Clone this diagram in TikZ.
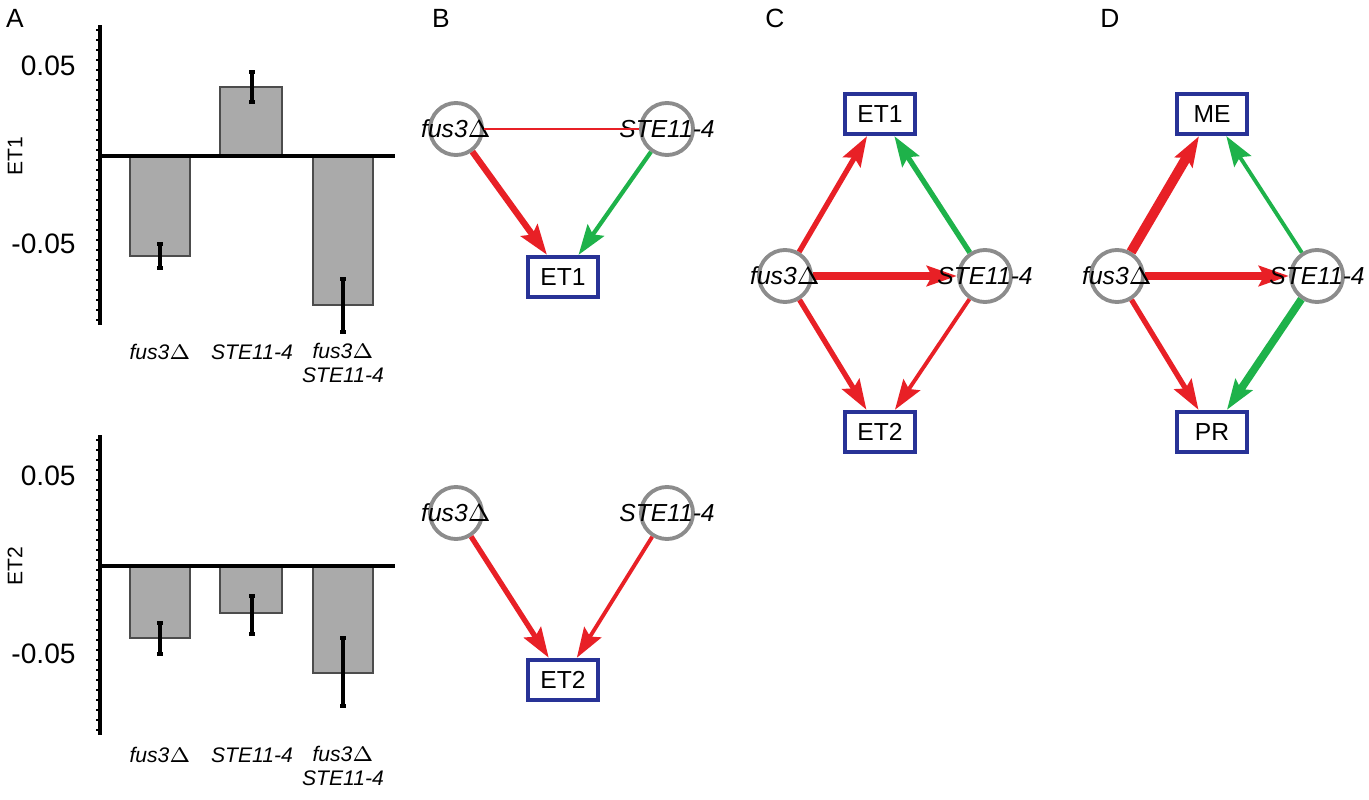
\documentclass[tikz,border=0pt]{standalone}
\usepackage{fontspec}
\setmainfont{Liberation Sans}
\usetikzlibrary{arrows.meta}
\definecolor{myred}{RGB}{232,32,38}
\definecolor{mygreen}{RGB}{30,178,74}
\definecolor{myblue}{RGB}{40,50,150}
\definecolor{bargray}{RGB}{170,170,170}
\begin{document}
\begin{tikzpicture}[x=0.01cm,y=-0.01cm,
  every node/.style={font=\fontsize{7}{8}\selectfont},
  circ/.style={circle,draw=gray!90,line width=1.1pt,minimum size=0.52cm,inner sep=0pt},
  lab/.style={font=\fontsize{7}{8}\selectfont\itshape},
  xlab/.style={font=\fontsize{6}{7}\selectfont\itshape},
  box/.style={draw=myblue,line width=1.1pt,minimum width=0.7cm,minimum height=0.34cm,fill=white},
  bar/.style={fill=bargray,draw=black!70,line width=0.5pt},
  err/.style={line width=1.3pt},
  arr/.style={-{Stealth[length=0.3cm,width=0.2cm,inset=0.05cm]}},
  panel/.style={font=\fontsize{7.5}{8}\selectfont}]
\useasboundingbox (0,0) rectangle (1369,800);
\node[panel] (pA) at (15,18) {A};
\node[panel] (pB) at (441,18) {B};
\node[panel] (pC) at (775,18) {C};
\node[panel] (pD) at (1110,18) {D};
\foreach \yo/\lab in {0/ET1, 410/ET2}{
  \begin{scope}[yshift=-\yo*0.01cm]
  \draw[line width=1.2pt] (100,25) -- (100,325);
  \foreach \t in {30,40,...,320} \draw[line width=0.5pt] (96,\t) -- (100,\t);
  \node[rotate=90,font=\fontsize{6}{7}\selectfont] at (15,156) {\lab};
  \node[anchor=east,font=\fontsize{8}{9}\selectfont] at (88,66) {0.05};
  \node[anchor=east,font=\fontsize{8}{9}\selectfont] at (88,244) {-0.05};
  \end{scope}
}
\draw[bar] (130,156) rectangle (190,256);
\draw[bar] (220,156) rectangle (282,87);
\draw[bar] (313,156) rectangle (373,305);
\draw[line width=1.2pt] (100,156) -- (395,156);
\draw[err] (160,244) -- (160,268); \draw[err] (252,72) -- (252,102); \draw[err] (343,279) -- (343,332);
\foreach \x/\a/\b in {160/244/268,252/72/102,343/279/332}{\draw[line width=1pt] (\x-3,\a)--(\x+3,\a) (\x-3,\b)--(\x+3,\b);}
\draw[bar] (130,566) rectangle (190,638);
\draw[bar] (220,566) rectangle (282,613);
\draw[bar] (313,566) rectangle (373,673);
\draw[line width=1.2pt] (100,566) -- (395,566);
\draw[err] (160,623) -- (160,654); \draw[err] (252,596) -- (252,634); \draw[err] (343,638) -- (343,706);
\foreach \x/\a/\b in {160/623/654,252/596/634,343/638/706}{\draw[line width=1pt] (\x-3,\a)--(\x+3,\a) (\x-3,\b)--(\x+3,\b);}
\node[xlab] (l1) at (160,352) {fus3$\Delta$};
\node[xlab] (l2) at (252,352) {STE11-4};
\node[xlab,align=center] (l3) at (343,363) {fus3$\Delta$\\STE11-4};
\node[xlab] (l4) at (160,755) {fus3$\Delta$};
\node[xlab] (l5) at (252,755) {STE11-4};
\node[xlab,align=center] (l6) at (343,766) {fus3$\Delta$\\STE11-4};
% B
\node[circ] (bf) at (456,129) {}; \node[lab] at (456,129) {fus3$\Delta$};
\node[circ] (bs) at (667,129) {}; \node[lab] at (667,129) {STE11-4};
\node[box] (be) at (563,277) {ET1};
\draw[myred,line width=0.6pt] (bf) -- (bs);
\draw[arr,myred,line width=1.8pt] (bf) -- (be);
\draw[arr,mygreen,line width=1.2pt] (bs) -- (be);
\node[circ] (cf) at (456,513) {}; \node[lab] at (456,513) {fus3$\Delta$};
\node[circ] (cs) at (667,513) {}; \node[lab] at (667,513) {STE11-4};
\node[box] (ce) at (563,680) {ET2};
\draw[arr,myred,line width=1.5pt] (cf) -- (ce);
\draw[arr,myred,line width=1.1pt] (cs) -- (ce);
% C
\node[box] (c1) at (880,114) {ET1};
\node[box] (c2) at (880,432) {ET2};
\node[circ] (df) at (785,276) {};
\node[circ] (ds) at (985,276) {};
\draw[arr,myred,line width=1.5pt] (df) -- (c1);
\draw[arr,mygreen,line width=1.5pt] (ds) -- (c1);
\draw[arr,myred,line width=1.5pt] (df) -- (c2);
\draw[arr,myred,line width=1.1pt] (ds) -- (c2);
\draw[arr,myred,line width=2.2pt] (df) -- (ds);
\node[lab] at (785,276) {fus3$\Delta$};
\node[lab] at (985,276) {STE11-4};
% D
\node[box] (d1) at (1212,114) {ME};
\node[box] (d2) at (1212,432) {PR};
\node[circ] (ef) at (1117,276) {};
\node[circ] (es) at (1317,276) {};
\draw[arr,myred,line width=2.8pt] (ef) -- (d1);
\draw[arr,mygreen,line width=1.1pt] (es) -- (d1);
\draw[arr,myred,line width=1.5pt] (ef) -- (d2);
\draw[arr,mygreen,line width=2.2pt] (es) -- (d2);
\draw[arr,myred,line width=2.2pt] (ef) -- (es);
\node[lab] at (1117,276) {fus3$\Delta$};
\node[lab] at (1317,276) {STE11-4};
\end{tikzpicture}
\end{document}
